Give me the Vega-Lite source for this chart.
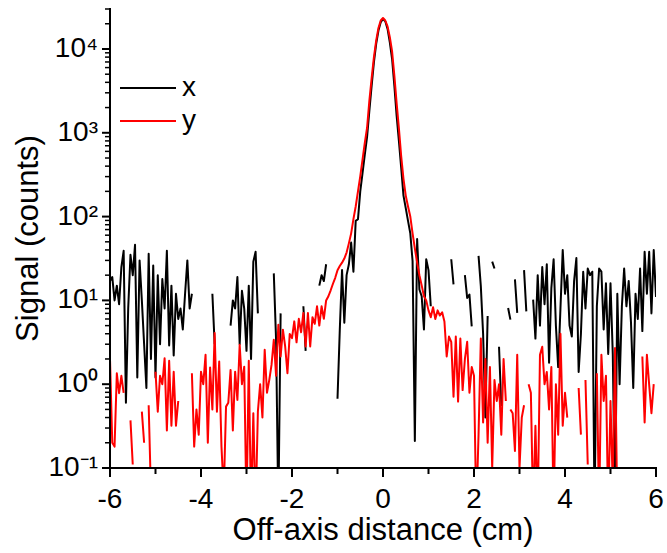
{
"$schema": "https://vega.github.io/schema/vega-lite/v6.json",
"width": 546, "height": 459,
"autosize": {"type": "none"},
"padding": {"left": 110, "top": 9, "right": 11, "bottom": 85},
"background": "white",
"config": {
  "view": {"stroke": null},
  "font": "Liberation Sans"
},
"datasets": {
"frame": [{"k": 0, "fx": -6, "fy": 30000}, {"k": 1, "fx": -6, "fy": 0.1}, {"k": 2, "fx": 6, "fy": 0.1}],
"xmajor": [{"v": -6, "t": "-6"}, {"v": -4, "t": "-4"}, {"v": -2, "t": "-2"}, {"v": 0, "t": "0"}, {"v": 2, "t": "2"}, {"v": 4, "t": "4"}, {"v": 6, "t": "6"}],
"xminor": [{"v": -5}, {"v": -3}, {"v": -1}, {"v": 1}, {"v": 3}, {"v": 5}],
"ymajor": [{"v": 0.1, "t": "10⁻¹"}, {"v": 1, "t": "10⁰"}, {"v": 10, "t": "10¹"}, {"v": 100, "t": "10²"}, {"v": 1000, "t": "10³"}, {"v": 10000, "t": "10⁴"}],
"yminor": [{"v":0.2},{"v":0.3},{"v":0.4},{"v":0.5},{"v":0.6},{"v":0.7},{"v":0.8},{"v":0.9},{"v":2},{"v":3},{"v":4},{"v":5},{"v":6},{"v":7},{"v":8},{"v":9},{"v":20},{"v":30},{"v":40},{"v":50},{"v":60},{"v":70},{"v":80},{"v":90},{"v":200},{"v":300},{"v":400},{"v":500},{"v":600},{"v":700},{"v":800},{"v":900},{"v":2000},{"v":3000},{"v":4000},{"v":5000},{"v":6000},{"v":7000},{"v":8000},{"v":9000},{"v":20000},{"v":30000}],
"profiles": [
{"p":-6.00,"x":17,"y":2.0},{"p":-5.95,"x":19,"y":0.2},{"p":-5.90,"x":10,"y":0.18},{"p":-5.85,"x":15,"y":1.35},{"p":-5.80,"x":9,"y":0.78},
{"p":-5.75,"x":25,"y":1.26},{"p":-5.70,"x":39,"y":0.79},{"p":-5.65,"x":0.6,"y":null},{"p":-5.60,"x":8,"y":null},{"p":-5.55,"x":35,"y":0.37},
{"p":-5.50,"x":20,"y":0.11},{"p":-5.45,"x":46,"y":null},{"p":-5.40,"x":1.2,"y":null},{"p":-5.35,"x":30,"y":null},{"p":-5.30,"x":10,"y":0.47},
{"p":-5.25,"x":3,"y":0.2},{"p":-5.20,"x":0.9,"y":null},{"p":-5.15,"x":36,"y":0.56},{"p":-5.10,"x":2,"y":0.05},{"p":-5.05,"x":26,"y":null},
{"p":-5.00,"x":1.2,"y":1.41},{"p":-4.95,"x":20,"y":0.47},{"p":-4.90,"x":3,"y":1.26},{"p":-4.85,"x":18,"y":1.0},{"p":-4.80,"x":8,"y":2.04},
{"p":-4.75,"x":39,"y":0.28},{"p":-4.70,"x":2.9,"y":1.9},{"p":-4.65,"x":15,"y":0.32},{"p":-4.60,"x":2.2,"y":1.41},{"p":-4.55,"x":12,"y":0.32},
{"p":-4.50,"x":6,"y":0.63},{"p":-4.45,"x":8,"y":null},{"p":-4.40,"x":4.5,"y":null},{"p":-4.35,"x":12,"y":null},{"p":-4.30,"x":30,"y":null},
{"p":-4.25,"x":8,"y":null},{"p":-4.20,"x":12,"y":1.35},{"p":-4.15,"x":null,"y":0.18},{"p":-4.10,"x":null,"y":0.5},{"p":-4.05,"x":null,"y":0.25},
{"p":-4.00,"x":null,"y":1.41},{"p":-3.95,"x":null,"y":1.0},{"p":-3.90,"x":null,"y":2.24},{"p":-3.85,"x":null,"y":0.2},{"p":-3.80,"x":null,"y":1.58},
{"p":-3.75,"x":12,"y":0.5},{"p":-3.70,"x":3,"y":4.07},{"p":-3.65,"x":null,"y":0.47},{"p":-3.60,"x":null,"y":1.86},{"p":-3.55,"x":null,"y":0.18},
{"p":-3.50,"x":null,"y":0.05},{"p":-3.45,"x":null,"y":0.54},{"p":-3.40,"x":null,"y":0.6},{"p":-3.35,"x":5,"y":1.48},{"p":-3.30,"x":10,"y":0.28},
{"p":-3.25,"x":8,"y":1.41},{"p":-3.20,"x":19,"y":0.65},{"p":-3.15,"x":3,"y":2.95},{"p":-3.10,"x":13,"y":1.0},{"p":-3.05,"x":8,"y":1.62},
{"p":-3.00,"x":2.5,"y":0.03},{"p":-2.95,"x":15,"y":1.9},{"p":-2.90,"x":2,"y":0.03},{"p":-2.85,"x":29,"y":0.45},{"p":-2.80,"x":38,"y":0.03},
{"p":-2.75,"x":7,"y":0.47},{"p":-2.70,"x":null,"y":1.0},{"p":-2.65,"x":null,"y":0.4},{"p":-2.60,"x":null,"y":2.57},{"p":-2.55,"x":null,"y":0.79},
{"p":-2.50,"x":null,"y":1.12},{"p":-2.45,"x":null,"y":1.7},{"p":-2.40,"x":21,"y":3.39},{"p":-2.35,"x":3.4,"y":1.26},{"p":-2.30,"x":0.03,"y":5.13},
{"p":-2.25,"x":7,"y":2.14},{"p":-2.20,"x":null,"y":4.47},{"p":-2.15,"x":null,"y":2.82},{"p":-2.10,"x":null,"y":1.35},{"p":-2.05,"x":null,"y":3.98},
{"p":-2.00,"x":null,"y":3.55},{"p":-1.95,"x":null,"y":5.62},{"p":-1.90,"x":null,"y":3.16},{"p":-1.85,"x":null,"y":6.03},{"p":-1.80,"x":null,"y":4.17},
{"p":-1.75,"x":8.5,"y":7.08},{"p":-1.70,"x":2.5,"y":2.82},{"p":-1.65,"x":null,"y":7.08},{"p":-1.60,"x":null,"y":2.82},{"p":-1.55,"x":null,"y":6.31},
{"p":-1.50,"x":null,"y":5.25},{"p":-1.45,"x":null,"y":8.51},{"p":-1.40,"x":15,"y":5.01},{"p":-1.35,"x":20,"y":8.51},{"p":-1.30,"x":17,"y":6.03},
{"p":-1.25,"x":27,"y":10},{"p":-1.20,"x":null,"y":11.2},{"p":-1.15,"x":null,"y":13.2},{"p":-1.10,"x":null,"y":15.8},{"p":-1.05,"x":null,"y":18.6},
{"p":-1.00,"x":0.67,"y":22.9},{"p":-0.95,"x":4.4,"y":25.7},{"p":-0.90,"x":23,"y":28.2},{"p":-0.85,"x":5.4,"y":31.6},{"p":-0.80,"x":20,"y":37.2},
{"p":-0.75,"x":27,"y":47.9},{"p":-0.70,"x":49,"y":63.1},{"p":-0.65,"x":22,"y":93.3},{"p":-0.60,"x":89,"y":132},{"p":-0.55,"x":93,"y":200},
{"p":-0.50,"x":200,"y":302},{"p":-0.45,"x":331,"y":479},{"p":-0.40,"x":550,"y":759},{"p":-0.35,"x":891,"y":1148},{"p":-0.30,"x":1820,"y":2399},
{"p":-0.25,"x":3631,"y":4467},{"p":-0.20,"x":6918,"y":7943},{"p":-0.15,"x":11482,"y":12589},{"p":-0.10,"x":16596,"y":17783},{"p":-0.05,"x":20893,"y":21878},
{"p":0.00,"x":22909,"y":23442},{"p":0.05,"x":21380,"y":21878},{"p":0.10,"x":17378,"y":18621},{"p":0.15,"x":12023,"y":13804},{"p":0.20,"x":7586,"y":9333},
{"p":0.25,"x":3631,"y":4786},{"p":0.30,"x":1585,"y":2239},{"p":0.35,"x":794,"y":1122},{"p":0.40,"x":380,"y":525},{"p":0.45,"x":178,"y":282},
{"p":0.50,"x":126,"y":178},{"p":0.55,"x":89,"y":132},{"p":0.60,"x":63,"y":100},{"p":0.65,"x":29.5,"y":63},{"p":0.70,"x":0.21,"y":41.7},
{"p":0.75,"x":54,"y":28.2},{"p":0.80,"x":13.5,"y":20},{"p":0.85,"x":11.2,"y":15.1},{"p":0.90,"x":4.5,"y":11.2},{"p":0.95,"x":31,"y":10},
{"p":1.00,"x":23,"y":7.6},{"p":1.05,"x":8.5,"y":6.3},{"p":1.10,"x":null,"y":8.3},{"p":1.15,"x":null,"y":6.0},{"p":1.20,"x":null,"y":7.6},
{"p":1.25,"x":null,"y":6.6},{"p":1.30,"x":null,"y":7.2},{"p":1.35,"x":null,"y":5.6},{"p":1.40,"x":null,"y":2.14},{"p":1.45,"x":null,"y":3.7},
{"p":1.50,"x":31,"y":3.2},{"p":1.55,"x":15.5,"y":0.71},{"p":1.60,"x":null,"y":3.7},{"p":1.65,"x":null,"y":0.62},{"p":1.70,"x":null,"y":3.5},
{"p":1.75,"x":null,"y":0.85},{"p":1.80,"x":20,"y":2.0},{"p":1.85,"x":10.7,"y":3.2},{"p":1.90,"x":11.7,"y":0.79},{"p":1.95,"x":4.9,"y":1.6},
{"p":2.00,"x":null,"y":1.26},{"p":2.05,"x":null,"y":0.03},{"p":2.10,"x":34,"y":0.25},{"p":2.15,"x":14.8,"y":3.5},{"p":2.20,"x":4.0,"y":0.35},
{"p":2.25,"x":0.4,"y":2.0},{"p":2.30,"x":6.5,"y":0.2},{"p":2.35,"x":null,"y":1.6},{"p":2.40,"x":29,"y":0.1},{"p":2.45,"x":24,"y":1.12},
{"p":2.50,"x":null,"y":0.63},{"p":2.55,"x":2.8,"y":1.0},{"p":2.60,"x":0.55,"y":0.25},{"p":2.65,"x":null,"y":2.0},{"p":2.70,"x":null,"y":0.63},
{"p":2.75,"x":8.1,"y":null},{"p":2.80,"x":5.9,"y":0.5},{"p":2.85,"x":null,"y":0.45},{"p":2.90,"x":17.8,"y":0.16},{"p":2.95,"x":7.1,"y":2.24},
{"p":3.00,"x":null,"y":0.1},{"p":3.05,"x":null,"y":0.4},{"p":3.10,"x":23,"y":0.56},{"p":3.15,"x":7.4,"y":null},{"p":3.20,"x":null,"y":1.0},
{"p":3.25,"x":null,"y":0.79},{"p":3.30,"x":10.2,"y":0.03},{"p":3.35,"x":3.5,"y":0.32},{"p":3.40,"x":20,"y":0.03},{"p":3.45,"x":5.0,"y":2.24},
{"p":3.50,"x":25,"y":2.8},{"p":3.55,"x":9,"y":1.0},{"p":3.60,"x":27,"y":1.4},{"p":3.65,"x":1.8,"y":0.5},{"p":3.70,"x":14,"y":1.6},
{"p":3.75,"x":31,"y":0.03},{"p":3.80,"x":5,"y":1.0},{"p":3.85,"x":1.6,"y":0.25},{"p":3.90,"x":8,"y":4.0},{"p":3.95,"x":40,"y":0.32},
{"p":4.00,"x":12,"y":0.79},{"p":4.05,"x":20,"y":0.4},{"p":4.10,"x":5,"y":null},{"p":4.15,"x":3.7,"y":null},{"p":4.20,"x":17,"y":null},
{"p":4.25,"x":32,"y":null},{"p":4.30,"x":1.4,"y":0.9},{"p":4.35,"x":4,"y":0.25},{"p":4.40,"x":22,"y":null},{"p":4.45,"x":8,"y":1.12},
{"p":4.50,"x":24,"y":0.11},{"p":4.55,"x":20,"y":null},{"p":4.60,"x":22,"y":null},{"p":4.65,"x":0.03,"y":null},{"p":4.70,"x":8.5,"y":1.35},
{"p":4.75,"x":24,"y":0.03},{"p":4.80,"x":22,"y":2.24},{"p":4.85,"x":4.5,"y":0.63},{"p":4.90,"x":16,"y":1.26},{"p":4.95,"x":2.3,"y":0.03},
{"p":5.00,"x":16,"y":0.63},{"p":5.05,"x":2.3,"y":0.06},{"p":5.10,"x":0.03,"y":2.7},{"p":5.15,"x":12,"y":0.03},{"p":5.20,"x":1.0,"y":null},
{"p":5.25,"x":8.5,"y":null},{"p":5.30,"x":24,"y":null},{"p":5.35,"x":8.5,"y":null},{"p":5.40,"x":17,"y":null},{"p":5.45,"x":5.5,"y":null},
{"p":5.50,"x":0.9,"y":null},{"p":5.55,"x":12,"y":null},{"p":5.60,"x":6,"y":null},{"p":5.65,"x":24,"y":null},{"p":5.70,"x":4.3,"y":2.14},
{"p":5.75,"x":38,"y":0.35},{"p":5.80,"x":12,"y":2.24},{"p":5.85,"x":38,"y":0.98},{"p":5.90,"x":7,"y":0.45},{"p":5.95,"x":40,"y":1.0},
{"p":6.00,"x":11,"y":null}
]},
"layer": [
  {
    "data": {"name": "profiles"},
    "transform": [{"fold": ["x", "y"], "as": ["series", "signal"]}],
    "mark": {"type": "line", "strokeWidth": 2, "clip": true, "strokeJoin": "round", "invalid": "break-paths-show-domains"},
    "encoding": {
      "x": {"field": "p", "type": "quantitative", "axis": null,
        "scale": {"domain": [-6, 6], "nice": false, "zero": false}},
      "y": {"field": "signal", "type": "quantitative", "axis": null,
        "scale": {"type": "log", "domain": [0.1, 30000], "nice": false}},
      "color": {"field": "series", "type": "nominal",
        "scale": {"domain": ["x", "y"], "range": ["#000000", "#ff0000"]},
        "legend": {"orient": "none", "legendX": 23, "legendY": 64, "title": null, "symbolType": "M-2,0L2,0", "symbolSize": 784, "symbolStrokeWidth": 2, "labelFontSize": 28, "labelFont": "Liberation Sans", "labelColor": "black", "labelOffset": 19, "rowPadding": 4, "padding": 0}}
    }
  },
  {
    "data": {"name": "frame"},
    "mark": {"type": "line", "color": "#000000", "strokeWidth": 2, "strokeCap": "square", "clip": false},
    "encoding": {
      "x": {"field": "fx", "type": "quantitative", "axis": null},
      "y": {"field": "fy", "type": "quantitative", "axis": null},
      "order": {"field": "k"}
    }
  },
  {
    "data": {"name": "xmajor"},
    "mark": {"type": "tick", "orient": "vertical", "color": "#000000", "size": 9, "thickness": 2, "yOffset": 4.5, "opacity": 1, "clip": false},
    "encoding": {
      "x": {"field": "v", "type": "quantitative", "axis": null},
      "y": {"datum": 0.1, "type": "quantitative", "axis": null}
    }
  },
  {
    "data": {"name": "xminor"},
    "mark": {"type": "tick", "orient": "vertical", "color": "#000000", "size": 6, "thickness": 2, "yOffset": 3, "opacity": 1, "clip": false},
    "encoding": {
      "x": {"field": "v", "type": "quantitative", "axis": null},
      "y": {"datum": 0.1, "type": "quantitative", "axis": null}
    }
  },
  {
    "data": {"name": "ymajor"},
    "mark": {"type": "tick", "orient": "horizontal", "color": "#000000", "size": 8, "thickness": 2, "xOffset": -4, "opacity": 1, "clip": false},
    "encoding": {
      "y": {"field": "v", "type": "quantitative", "axis": null},
      "x": {"datum": -6, "type": "quantitative", "axis": null}
    }
  },
  {
    "data": {"name": "yminor"},
    "mark": {"type": "tick", "orient": "horizontal", "color": "#000000", "size": 5, "thickness": 1.5, "xOffset": -2.5, "opacity": 1, "clip": false},
    "encoding": {
      "y": {"field": "v", "type": "quantitative", "axis": null},
      "x": {"datum": -6, "type": "quantitative", "axis": null}
    }
  },
  {
    "data": {"name": "xmajor"},
    "mark": {"type": "text", "font": "Liberation Sans", "fontSize": 28, "color": "#000000", "align": "center", "baseline": "top", "dy": 18, "clip": false},
    "encoding": {
      "x": {"field": "v", "type": "quantitative", "axis": null},
      "y": {"datum": 0.1, "type": "quantitative", "axis": null},
      "text": {"field": "t", "type": "nominal"}
    }
  },
  {
    "data": {"name": "ymajor"},
    "mark": {"type": "text", "font": "Liberation Sans", "fontSize": 28, "color": "#000000", "align": "right", "baseline": "middle", "dx": -12, "clip": false},
    "encoding": {
      "y": {"field": "v", "type": "quantitative", "axis": null},
      "x": {"datum": -6, "type": "quantitative", "axis": null},
      "text": {"field": "t", "type": "nominal"}
    }
  },
  {
    "data": {"values": [{"t": "Off-axis distance (cm)"}]},
    "mark": {"type": "text", "font": "Liberation Sans", "fontSize": 31, "color": "#000000", "align": "center", "baseline": "top", "dy": 48, "clip": false},
    "encoding": {
      "x": {"datum": 0, "type": "quantitative", "axis": null},
      "y": {"datum": 0.1, "type": "quantitative", "axis": null},
      "text": {"field": "t", "type": "nominal"}
    }
  },
  {
    "data": {"values": [{"t": "Signal (counts)"}]},
    "mark": {"type": "text", "font": "Liberation Sans", "fontSize": 31, "color": "#000000", "align": "center", "baseline": "bottom", "angle": 270, "dy": -65, "clip": false},
    "encoding": {
      "x": {"datum": -6, "type": "quantitative", "axis": null},
      "y": {"datum": 54.77, "type": "quantitative", "axis": null},
      "text": {"field": "t", "type": "nominal"}
    }
  }
]
}
